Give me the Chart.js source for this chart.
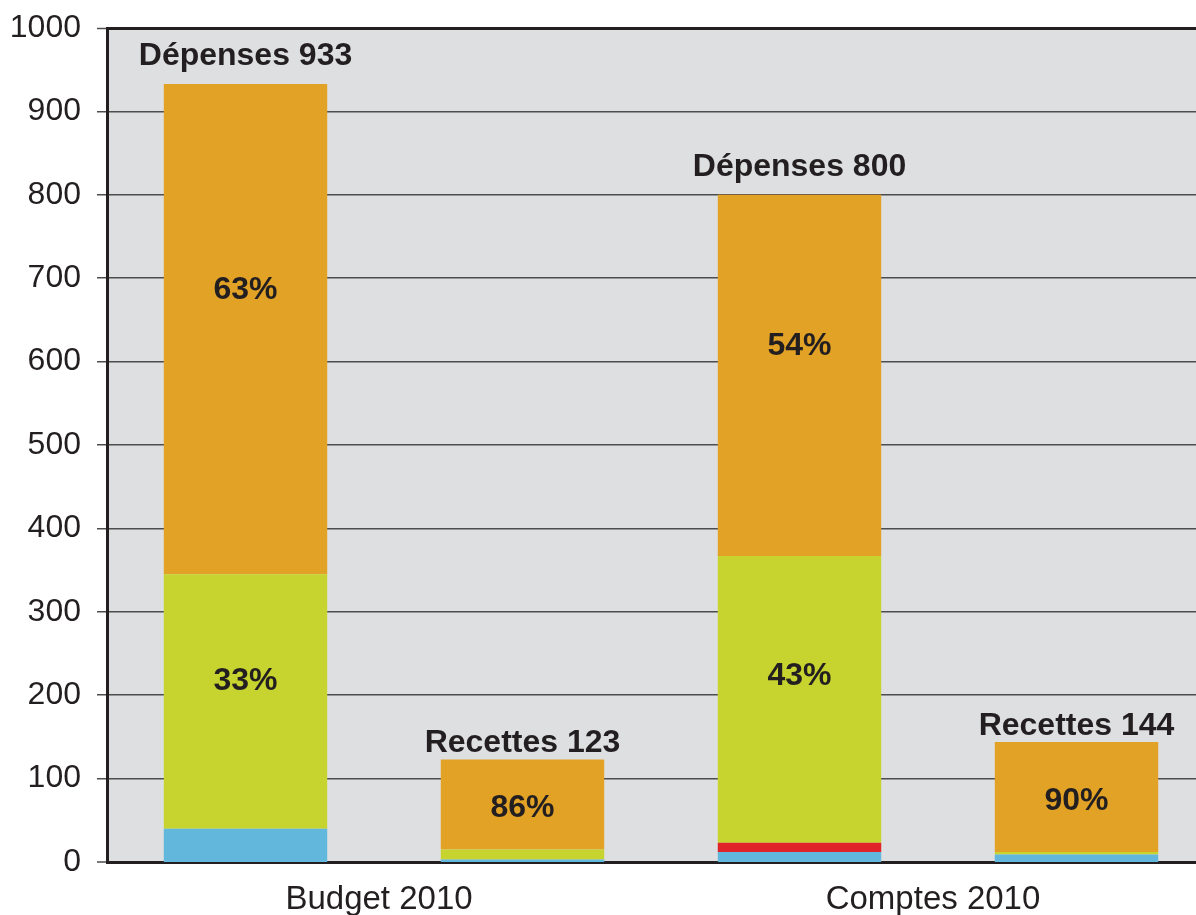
<!DOCTYPE html>
<html>
<head>
<meta charset="utf-8">
<script src="https://cdn.jsdelivr.net/npm/chart.js@4"></script>
<style>
  html, body { margin: 0; padding: 0; background: #fff; overflow: hidden; }
  canvas { display: block; }
</style>
</head>
<body>
<canvas id="budgetChart" width="1215" height="915"></canvas>
<script>
// categories & values
const categories = ['Budget 2010', 'Comptes 2010'];

const depensesBleu = [40, 12];
const depensesRouge = [0, 11];
const depensesVert = [305, 344];
const depensesOrange = [588, 433];
const depensesTotal = [933, 800];
const depensesPctVert = ['33%', '43%'];
const depensesPctOrange = ['63%', '54%'];

const recettesBleu = [3, 9];
const recettesVert = [12, 3];
const recettesOrange = [108, 132];
const recettesTotal = [123, 144];
const recettesPctOrange = ['86%', '90%'];

const yTicks = [0, 100, 200, 300, 400, 500, 600, 700, 800, 900, 1000];

const BLEU = '#62b7dc', ROUGE = '#e02328', VERT = '#c7d42f', ORANGE = '#e2a226';
const INK = '#231f20';
const FONT = '"Liberation Sans", Arial, sans-serif';

const plotBg = {
    id: 'plotBg',
    beforeDraw(chart) {
        const a = chart.chartArea, ctx = chart.ctx;
        ctx.save();
        ctx.fillStyle = '#dedfe1';
        ctx.fillRect(a.left, a.top, a.right - a.left, a.bottom - a.top);
        ctx.restore();
    }
};

const barLabels = {
    id: 'barLabels',
    afterDatasetsDraw(chart) {
        const ctx = chart.ctx;
        ctx.save();
        ctx.fillStyle = INK;
        ctx.textAlign = 'center';
        ctx.font = 'bold 32px ' + FONT;

        const depTop = chart.getDatasetMeta(3).data;
        const recTop = chart.getDatasetMeta(6).data;
        const depGreen = chart.getDatasetMeta(2).data;

        ctx.textBaseline = 'alphabetic';
        categories.forEach((c, i) => {
            ctx.fillText('Dépenses ' + depensesTotal[i], depTop[i].x, depTop[i].y - 19);
            ctx.fillText('Recettes ' + recettesTotal[i], recTop[i].x, recTop[i].y - 7);
        });

        ctx.textBaseline = 'middle';
        const mid = (el, f) => el.base - (el.base - el.y) * f;
        categories.forEach((c, i) => {
            ctx.fillText(depensesPctOrange[i], depTop[i].x, mid(depTop[i], 0.58));
            ctx.fillText(depensesPctVert[i], depGreen[i].x, mid(depGreen[i], 0.58));
            ctx.fillText(recettesPctOrange[i], recTop[i].x, mid(recTop[i], 0.46));
        });
        ctx.restore();
    }
};

const ds = (data, color, stack) => ({
    data, stack,
    backgroundColor: color,
    borderWidth: 0,
    categoryPercentage: 1.0,
    barPercentage: 0.59
});

new Chart(document.getElementById('budgetChart'), {
    type: 'bar',
    data: {
        labels: categories,
        datasets: [
            ds(depensesBleu, BLEU, 'dep'),
            ds(depensesRouge, ROUGE, 'dep'),
            ds(depensesVert, VERT, 'dep'),
            ds(depensesOrange, ORANGE, 'dep'),
            ds(recettesBleu, BLEU, 'rec'),
            ds(recettesVert, VERT, 'rec'),
            ds(recettesOrange, ORANGE, 'rec')
        ]
    },
    options: {
        responsive: false,
        animation: false,
        layout: { padding: { top: 28, right: 0, left: 0, bottom: 0 } },
        plugins: {
            legend: { display: false },
            tooltip: { enabled: false }
        },
        scales: {
            x: {
                stacked: true,
                grid: { display: false, drawTicks: false },
                border: { display: true, width: 3, color: INK },
                ticks: {
                    color: INK,
                    font: { family: FONT, size: 33 },
                    padding: 18,
                    labelOffset: -5
                },
                afterFit(scale) { scale.height = 53; }
            },
            y: {
                stacked: true,
                min: 0,
                max: 1000,
                afterBuildTicks(scale) { scale.ticks = yTicks.map(v => ({ value: v })); },
                grid: {
                    color: (c) => c.tick && c.tick.value === 1000 ? INK : '#4d4d4d',
                    lineWidth: (c) => c.tick && c.tick.value === 1000 ? 3 : (c.tick && c.tick.value === 0 ? 0 : 1.5),
                    drawTicks: true,
                    tickLength: 10,
                    tickColor: '#4d4d4d',
                    tickWidth: 1.5
                },
                border: { display: true, width: 3, color: INK },
                ticks: {
                    color: INK,
                    font: { family: FONT, size: 32 },
                    padding: 16,
                    callback: (v) => String(v)
                },
                afterFit(scale) {
                    scale.width = 107;
                    scale.paddingTop = 0;
                    scale.paddingBottom = 0;
                }
            }
        }
    },
    plugins: [plotBg, barLabels]
});
</script>
</body>
</html>
